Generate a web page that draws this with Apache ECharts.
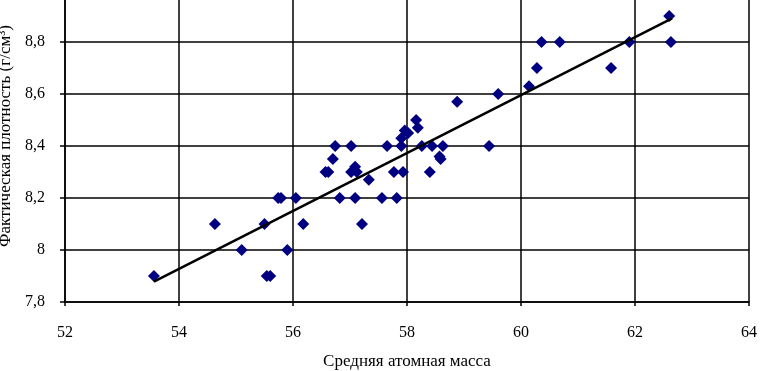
<!DOCTYPE html>
<html>
<head>
<meta charset="utf-8">
<script src="https://cdn.jsdelivr.net/npm/echarts@6/dist/echarts.min.js"></script>
<style>
  html, body { margin: 0; padding: 0; background: #fff; }
  #chart { width: 761px; height: 371px; }
</style>
</head>
<body>
<div id="chart"></div>
<script>
// средняя атомная масса / фактическая плотность
const massX = [
  53.56, 54.63, 55.1, 55.5, 55.54, 55.6, 55.74, 55.79, 55.9, 56.05,
  56.18, 56.57, 56.62, 56.7, 56.74, 56.82, 57.02, 57.02, 57.09, 57.12,
  57.09, 57.21, 57.33, 57.56, 57.65, 57.77, 57.82, 57.9, 57.9, 57.93,
  57.96, 58.02, 58.16, 58.19, 58.26, 58.4, 58.44, 58.57, 58.59, 58.63,
  58.88, 59.44, 59.6, 60.14, 60.28, 60.36, 60.68, 61.58, 61.9, 62.6,
  62.63
];
const densityY = [
  7.9, 8.1, 8.0, 8.1, 7.9, 7.9, 8.2, 8.2, 8.0, 8.2,
  8.1, 8.3, 8.3, 8.35, 8.4, 8.2, 8.4, 8.3, 8.32, 8.3,
  8.2, 8.1, 8.27, 8.2, 8.4, 8.3, 8.2, 8.4, 8.43, 8.3,
  8.46, 8.45, 8.5, 8.47, 8.4, 8.3, 8.4, 8.36, 8.35, 8.4,
  8.57, 8.4, 8.6, 8.63, 8.7, 8.8, 8.8, 8.7, 8.8, 8.9,
  8.8
];
// линия тренда (концы)
const trendX = [53.56, 62.65];
const trendY = [7.878, 8.891];

const points = massX.map((x, i) => [x, densityY[i]]);
const trend = trendX.map((x, i) => [x, trendY[i]]);

const font = '"Liberation Serif", "DejaVu Serif", serif';
const myChart = echarts.init(document.getElementById('chart'));

const option = {
  animation: false,
  grid: { left: 65, right: 12, top: -10, bottom: 69, outerBoundsMode: 'none', containLabel: false },
  xAxis: {
    type: 'value',
    min: 52, max: 64, interval: 2,
    name: 'Средняя атомная масса',
    nameLocation: 'middle',
    nameGap: 51,
    nameTextStyle: { fontFamily: font, fontSize: 17, color: '#000' },
    axisLine: { lineStyle: { color: '#000', width: 1.5 } },
    axisTick: { show: true, length: 4, lineStyle: { color: '#000', width: 1.5 } },
    axisLabel: { fontFamily: font, fontSize: 16, color: '#000', margin: 23 },
    splitLine: { show: true, lineStyle: { color: '#000', width: 1.5 } }
  },
  yAxis: {
    type: 'value',
    min: 7.8, max: 9.0, interval: 0.2,
    name: 'Фактическая плотность (г/см³)',
    nameLocation: 'middle',
    nameGap: 41,
    nameTextStyle: { fontFamily: font, fontSize: 17, color: '#000', padding: [0, 0, 0, 20] },
    axisLine: { show: true, lineStyle: { color: '#000', width: 1.5 } },
    axisTick: { show: true, length: 5, lineStyle: { color: '#000', width: 1.5 } },
    axisLabel: {
      fontFamily: font, fontSize: 16, color: '#000', margin: 20,
      formatter: (v) => (Math.round(v * 10) / 10).toString().replace('.', ',')
    },
    splitLine: { show: true, lineStyle: { color: '#000', width: 1.5 } }
  },
  series: [
    {
      name: 'данные',
      type: 'scatter',
      symbol: 'diamond',
      symbolSize: 12,
      itemStyle: { color: '#000080', opacity: 1 },
      data: points,
      z: 3
    },
    {
      name: 'тренд',
      type: 'line',
      showSymbol: false,
      symbol: 'none',
      lineStyle: { color: '#000', width: 2.5 },
      data: trend,
      z: 4
    }
  ]
};

myChart.setOption(option);
</script>
</body>
</html>
